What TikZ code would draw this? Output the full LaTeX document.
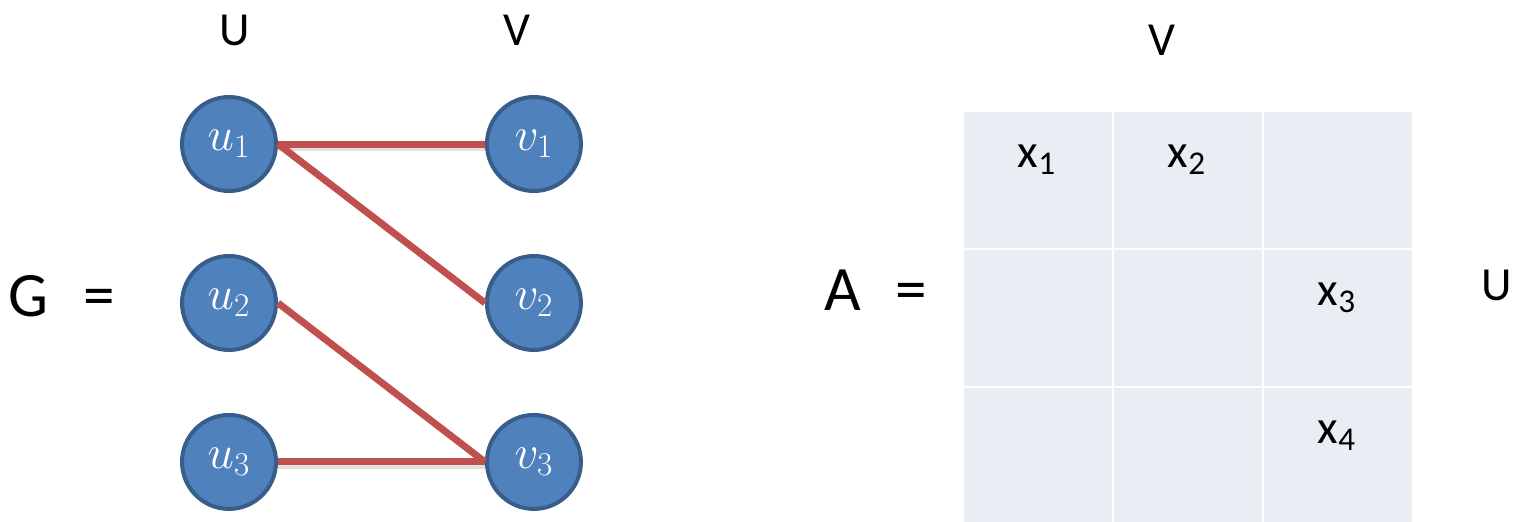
\documentclass[tikz,border=0pt]{standalone}
\usepackage{fix-cm}
\usepackage[no-math]{fontspec}
\setmainfont{Carlito}
\usetikzlibrary{positioning}
\definecolor{nodeblue}{RGB}{79,129,189}
\definecolor{nodeline}{RGB}{56,93,138}
\definecolor{edgered}{RGB}{192,80,77}
\definecolor{cellblue}{RGB}{233,237,244}
\begin{document}
\begin{tikzpicture}[x=0.02cm, y=-0.02cm, node distance=1.22cm and 4.14cm,
  vert/.style={circle, draw=nodeline, fill=nodeblue, line width=0.08cm, minimum size=1.88cm, inner sep=0pt, text=white, font=\fontsize{27}{31}\selectfont},
  link/.style={draw=edgered, line width=0.14cm},
  shade/.style={draw=black, opacity=0.12, line width=0.16cm},
  cell/.style={rectangle, fill=cellblue, minimum width=2.96cm, minimum height=2.72cm, inner sep=0pt},
  lab/.style={font=\fontsize{27}{32}\selectfont},
  big/.style={font=\fontsize{36}{42}\selectfont}]
\useasboundingbox (0,0) rectangle (1513,521);
% bipartite graph
\node[vert] at (229,144) (u1) {$u_1$};
\node[vert, below=of u1] (u2) {$u_2$};
\node[vert, below=of u2] (u3) {$u_3$};
\node[vert, right=of u1] (v1) {$v_1$};
\node[vert, right=of u2] (v2) {$v_2$};
\node[vert, right=of u3] (v3) {$v_3$};
\draw[shade] ([yshift=-0.06cm]u1.east) -- ([yshift=-0.06cm]v1.west);
\draw[shade] ([yshift=-0.06cm]u3.east) -- ([yshift=-0.06cm]v3.west);
\draw[link] (u1.east) -- (v1.west);
\draw[link] (u1.east) -- (v2.west);
\draw[link] (u2.east) -- (v3.west);
\draw[link] (u3.east) -- (v3.west);
\node[lab] at (235,30) (setu) {U};
\node[lab] at (517,30) (setv) {V};
\node[big] at (62,296) (geq) {G\hspace{0.55em}=};
% matrix
\node[cell] at (1038,180) (c11) {};
\node[cell] at (1188,180) (c12) {};
\node[cell] at (1338,180) (c13) {};
\node[cell] at (1038,318) (c21) {};
\node[cell] at (1188,318) (c22) {};
\node[cell] at (1338,318) (c23) {};
\node[cell] at (1038,456) (c31) {};
\node[cell] at (1188,456) (c32) {};
\node[cell] at (1338,456) (c33) {};
\node[lab] at (1037,160) (x1) {x\textsubscript{1}};
\node[lab] at (1187,160) (x2) {x\textsubscript{2}};
\node[lab] at (1337,298) (x3) {x\textsubscript{3}};
\node[lab] at (1337,436) (x4) {x\textsubscript{4}};
\node[big] at (876,290) (aeq) {A\hspace{0.55em}=};
\node[lab] at (1162,40) (colv) {V};
\node[lab] at (1497,285) (rowu) {U};
\end{tikzpicture}
\end{document}
